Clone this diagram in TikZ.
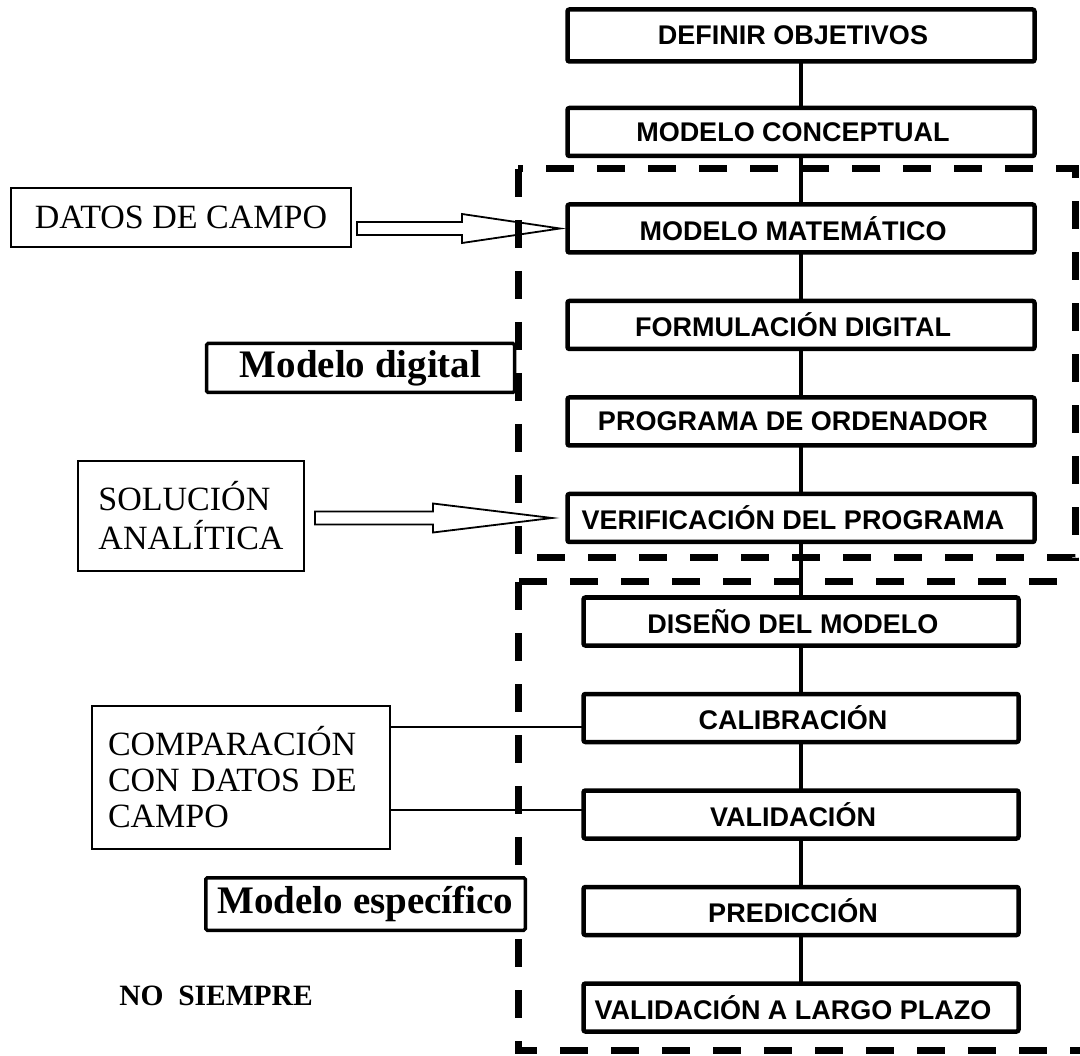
\documentclass[tikz,border=0pt]{standalone}
\usepackage{fontspec}
\setmainfont{Liberation Serif}
\newfontfamily\arialfont{Liberation Sans}
\usetikzlibrary{positioning, calc}

\begin{document}
\begin{tikzpicture}[
		x=1pt, y=-1pt,
		node distance=48.5pt,
		stage/.style={draw, line width=4.5pt, rounded corners=2pt, outer sep=0pt, inner sep=0pt, minimum height=48pt, font=\arialfont\bfseries\fontsize{27}{30}\selectfont, execute at end node={\kern16pt}},
		upper/.style={stage, minimum width=467pt},
		lower/.style={stage, minimum width=435pt},
		link/.style={line width=4pt},
		frame/.style={line width=7pt, dash pattern=on 28pt off 23pt},
		source/.style={draw, line width=2pt, outer sep=0pt, inner sep=0pt, align=left, font=\fontsize{34}{37}\selectfont},
		tag/.style={draw, fill=white, line width=3.5pt, rounded corners=1.5pt, outer sep=0pt, inner sep=0pt, font=\bfseries\fontsize{39}{42}\selectfont},
		hollow/.style={draw, line width=1.8pt},
		feed/.style={line width=2pt}
		]
		\useasboundingbox (0,0) rectangle (1080,1056);
		
		% etapas
		\node [upper, minimum height=52pt] (objetivos) at (801,35.5) {DEFINIR OBJETIVOS};
		\node [upper] (conceptual) [below=46.5pt of objetivos] {MODELO CONCEPTUAL};
		\node [upper] (matematico) [below=of conceptual] {MODELO MATEMÁTICO};
		\node [upper] (formulacion) [below=of matematico] {FORMULACIÓN DIGITAL};
		\node [upper] (programa) [below=of formulacion] {PROGRAMA DE ORDENADOR};
		\node [upper] (verificacion) [below=of programa] {VERIFICACIÓN DEL PROGRAMA};
		\node [lower] (diseno) [below=55.5pt of verificacion] {DISEÑO DEL MODELO};
		\node [lower] (calibracion) [below=of diseno] {CALIBRACIÓN};
		\node [lower] (validacion) [below=of calibracion] {VALIDACIÓN};
		\node [lower] (prediccion) [below=of validacion] {PREDICCIÓN};
		\node [lower] (largoplazo) [below=of prediccion] {VALIDACIÓN A LARGO PLAZO};
		
		\foreach \a/\b in {objetivos/conceptual, conceptual/matematico, matematico/formulacion, formulacion/programa, programa/verificacion, verificacion/diseno, diseno/calibracion, calibracion/validacion, validacion/prediccion, prediccion/largoplazo}
			\draw [link] (\a) -- (\b);
		
		% entradas
		\node [source, minimum width=340pt, minimum height=59pt] (datos) at (181,217.5) {DATOS DE CAMPO};
		\node [source, minimum width=226pt, minimum height=110pt, font=\fontsize{34}{39}\selectfont] (solucion) at (191,516) {SOLUCIÓN\\ANALÍTICA};
		\node [source, minimum width=298pt, minimum height=143pt, text width=266pt, align=left, font=\fontsize{34}{36}\selectfont\raggedright] (comparacion) at (241,777.5) {COMPARACIÓN\\CON DATOS DE\\CAMPO};
		\node (nosiempre) at (216,996) {\bfseries\fontsize{29.5}{32}\selectfont NO\ \ SIEMPRE};
		
		\draw [hollow] let \p1=(datos.east), \p2=(matematico.west) in
			(\x2-7.5pt,\y2) -- (\x2-105.5pt,\y2+14.5pt) -- (\x2-105.5pt,\y2+6.5pt) -- (\x1+6pt,\y2+6.5pt)
			-- (\x1+6pt,\y2-6.5pt) -- (\x2-105.5pt,\y2-6.5pt) -- (\x2-105.5pt,\y2-14.5pt) -- cycle;
		\draw [hollow] let \p1=(solucion.east), \p2=(verificacion.west) in
			(\x2-15.5pt,\y2) -- (\x2-134.5pt,\y2+14.5pt) -- (\x2-134.5pt,\y2+6.5pt) -- (\x1+11pt,\y2+6.5pt)
			-- (\x1+11pt,\y2-6.5pt) -- (\x2-134.5pt,\y2-6.5pt) -- (\x2-134.5pt,\y2-14.5pt) -- cycle;
		
		\draw [feed] ([yshift=-9pt]calibracion.west) -- ([yshift=-9pt]calibracion.west -| comparacion.east);
		\draw [feed] ([yshift=5pt]validacion.west) -- ([yshift=5pt]validacion.west -| comparacion.east);
		
		% recuadros
		\draw [frame] (518,169) rectangle (1075,558);
		\draw [frame] (518,582) rectangle (1110,1050);
		
		\node [tag, minimum width=308pt, minimum height=49pt] (digital) at (360.5,368) {Modelo digital};
		\node [tag, minimum width=319.5pt, minimum height=52.5pt] (especifico) at (365.5,904) {Modelo específico};
	\end{tikzpicture}
\end{document}
